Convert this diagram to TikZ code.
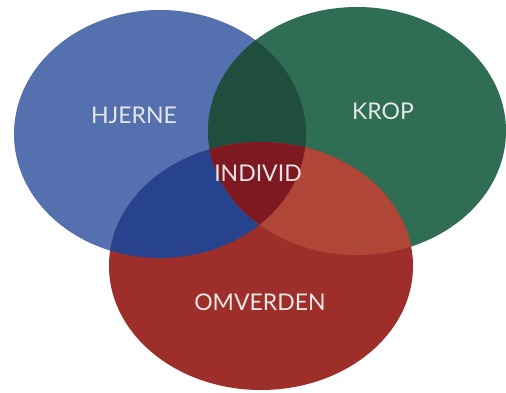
\documentclass[tikz,border=0pt]{standalone}
\usepackage{fontspec}
\setmainfont{Lato}
\definecolor{cblue}{HTML}{5470AF}
\definecolor{cgreen}{HTML}{2F6E55}
\definecolor{cred}{HTML}{9D2E29}
\definecolor{cbg}{HTML}{1F4E3E}
\definecolor{cbr}{HTML}{27438E}
\definecolor{cgr}{HTML}{B04637}
\definecolor{cbgr}{HTML}{7E1922}
\definecolor{ctext}{HTML}{E6E6E6}
\begin{document}
\begin{tikzpicture}[x=1pt,y=-1pt,
  lbl/.style={text=ctext,font=\fontsize{23}{23}\selectfont,inner sep=0pt}]
\def\Bp{(160,134) ellipse [x radius=146, y radius=124]}
\def\Gp{(357,131) ellipse [x radius=149, y radius=124]}
\def\Rp{(261,266) ellipse [x radius=152, y radius=124]}
\fill[white] (0,0) rectangle (506,392);
\useasboundingbox (0,0) rectangle (506,392);
\fill[cblue] \Bp;
\fill[cgreen] \Gp;
\fill[cred] \Rp;
\begin{scope}\clip \Bp; \fill[cbg] \Gp; \end{scope}
\begin{scope}\clip \Bp; \fill[cbr] \Rp; \end{scope}
\begin{scope}\clip \Gp; \fill[cgr] \Rp; \end{scope}
\begin{scope}\clip \Bp; \clip \Gp; \fill[cbgr] \Rp; \end{scope}
\node[lbl] (hjerne) at (134,115) {HJERNE};
\node[lbl] (krop) at (383,111) {KROP};
\node[lbl] (individ) at (258,173) {INDIVID};
\node[lbl] (omverden) at (260,302) {OMVERDEN};
\end{tikzpicture}
\end{document}
